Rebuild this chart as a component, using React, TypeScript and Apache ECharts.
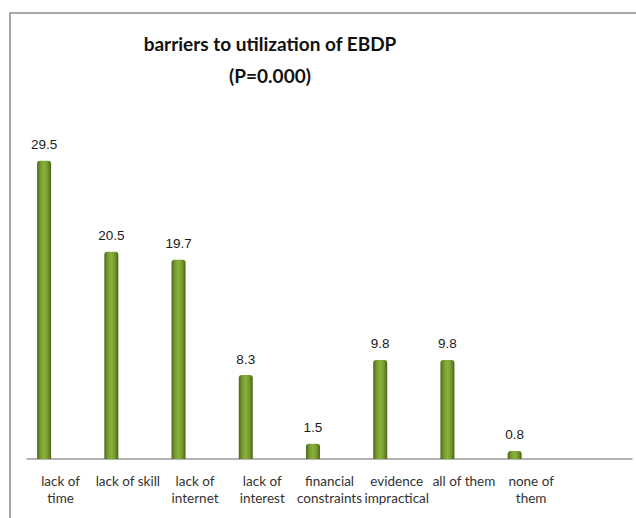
import React, { useEffect, useRef } from "react";
import * as echarts from "echarts";

const categories = [
  "lack of\ntime",
  "lack of skill",
  "lack of\ninternet",
  "lack of\ninterest",
  "financial\nconstraints",
  "evidence\nimpractical",
  "all of them",
  "none of\nthem",
  "",
];
const values: (number | null)[] = [29.5, 20.5, 19.7, 8.3, 1.5, 9.8, 9.8, 0.8, null];
const emptySeries: (number | null)[] = [null, null, null, null, null, null, null, null, null];
const titleText = "barriers to utilization of EBDP\n(P=0.000)";

export default function App() {
  const ref = useRef<HTMLDivElement>(null);
  useEffect(() => {
    if (!ref.current) return;
    const chart = echarts.init(ref.current, undefined, { renderer: "svg" });
    const barGradient = new echarts.graphic.LinearGradient(0, 0, 1, 0, [
      { offset: 0, color: "#4e6818" },
      { offset: 0.25, color: "#779c30" },
      { offset: 0.5, color: "#8cb03d" },
      { offset: 0.75, color: "#769a2e" },
      { offset: 1, color: "#4a6214" },
    ]);
    chart.setOption({
      animation: false,
      backgroundColor: "#ffffff",
      graphic: [
        {
          type: "rect",
          shape: { x: 10, y: 13, width: 700, height: 600 },
          style: { fill: "none", stroke: "#8c8c8c", lineWidth: 1.5 },
          z: -1,
        },
        {
          type: "text",
          x: 270,
          y: 27,
          style: {
            text: titleText,
            align: "center",
            verticalAlign: "top",
            font: "bold 19px Lato",
            lineHeight: 32,
            fill: "#111111",
          },
        },
      ],
      grid: { left: 27, right: 4, top: 105, bottom: 59, containLabel: false },
      xAxis: {
        type: "category",
        data: categories,
        axisLine: { show: true, lineStyle: { color: "#9a9a9a", width: 1.5 } },
        axisTick: { show: false },
        axisLabel: {
          interval: 0,
          color: "#333333",
          fontFamily: "Lato",
          fontSize: 13.5,
          lineHeight: 17,
          margin: 13,
        },
      },
      yAxis: {
        type: "value",
        min: 0,
        max: 35,
        show: false,
        splitLine: { show: false },
      },
      series: [
        {
          type: "bar",
          data: values,
          barWidth: 14,
          barGap: "136%",
          itemStyle: { color: barGradient, borderRadius: [3, 3, 0, 0] },
          label: {
            show: true,
            position: "top",
            distance: 9,
            color: "#1a1a1a",
            fontFamily: "Liberation Sans",
            fontSize: 13.5,
          },
        },
        {
          type: "bar",
          data: emptySeries,
          barWidth: 14,
        },
      ],
    });
    return () => chart.dispose();
  }, []);
  return (
    <div
      ref={ref}
      style={{ position: "fixed", left: 0, top: 0, width: 636, height: 518 }}
    />
  );
}
